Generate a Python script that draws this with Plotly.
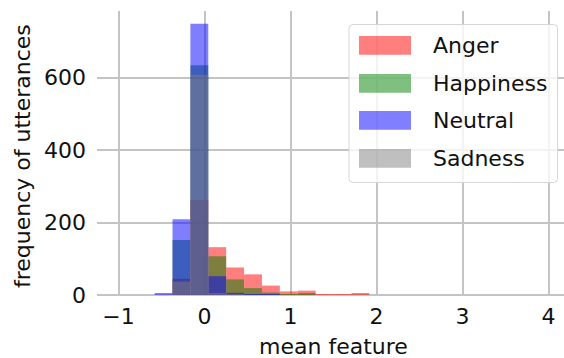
import plotly.graph_objects as go

# ---- data ----
bin_edges = [-0.58, -0.372, -0.164, 0.044, 0.252, 0.46, 0.668, 0.876, 1.084, 1.292, 1.50, 1.708, 1.916]
series_names = ["Anger", "Happiness", "Neutral", "Sadness"]
anger = [0, 45, 262, 132, 76, 57, 26, 10, 12, 2, 2, 4]
happiness = [0, 152, 634, 107, 43, 19, 7, 1, 3, 0, 0, 0]
neutral = [3, 209, 749, 52, 6, 2, 2, 0, 0, 0, 0, 0]
sadness = [0, 37, 608, 3, 1, 0, 0, 0, 0, 0, 0, 0]
x_ticks = [-1, 0, 1, 2, 3, 4]
y_ticks = [0, 200, 400, 600]

colors = ["#ff0000", "#008000", "#0000ff", "#808080"]
counts = [anger, happiness, neutral, sadness]

centers = [(a + b) / 2 for a, b in zip(bin_edges[:-1], bin_edges[1:])]
widths = [b - a for a, b in zip(bin_edges[:-1], bin_edges[1:])]

FONT = "DejaVu Sans"
W, H = 564, 358
L, R, T, B = 97, 564, 11, 295

fig = go.Figure()
for name, vals, c in zip(series_names, counts, colors):
    fig.add_trace(go.Bar(x=centers, y=vals, width=widths, name=name,
                         marker=dict(color=c, line=dict(width=0)),
                         opacity=0.5, showlegend=False))

def xp(px):
    return (px - L) / (R - L)

def yp(py):
    return (B - py) / (B - T)

shapes = []
annotations = []

# legend box with rounded corners
bx0, bx1, by0, by1, r = 349, 557.5, 24.5, 182.5, 4
path = (f"M{xp(bx0 + r)},{yp(by0)} L{xp(bx1 - r)},{yp(by0)} Q{xp(bx1)},{yp(by0)} {xp(bx1)},{yp(by0 + r)} "
        f"L{xp(bx1)},{yp(by1 - r)} Q{xp(bx1)},{yp(by1)} {xp(bx1 - r)},{yp(by1)} "
        f"L{xp(bx0 + r)},{yp(by1)} Q{xp(bx0)},{yp(by1)} {xp(bx0)},{yp(by1 - r)} "
        f"L{xp(bx0)},{yp(by0 + r)} Q{xp(bx0)},{yp(by0)} {xp(bx0 + r)},{yp(by0)} Z")
shapes.append(dict(type="path", xref="paper", yref="paper", path=path,
                   fillcolor="rgba(255,255,255,0.8)", line=dict(color="#d6d6d6", width=1)))

patch_tops = [36, 74, 111, 149]
for name, c, top in zip(series_names, colors, patch_tops):
    shapes.append(dict(type="rect", xref="paper", yref="paper",
                       x0=xp(359), x1=xp(411), y0=yp(top), y1=yp(top + 18.7),
                       fillcolor=c, opacity=0.5, line=dict(width=0)))
    annotations.append(dict(text=name, xref="paper", yref="paper",
                            x=xp(431), y=yp(top + 9.5), xanchor="left", yanchor="middle",
                            showarrow=False, font=dict(family=FONT, size=22, color="#111111")))

# axis titles
annotations.append(dict(text="mean feature", xref="paper", yref="paper",
                        x=xp(333), y=yp(346), xanchor="center", yanchor="middle",
                        showarrow=False, font=dict(family=FONT, size=22, color="#111111")))
annotations.append(dict(text="frequency of utterances", xref="paper", yref="paper",
                        x=xp(22), y=yp(156), xanchor="center", yanchor="middle", textangle=-90,
                        showarrow=False, font=dict(family=FONT, size=22, color="#111111")))

grid = "#c4c4c4"
fig.update_layout(
    width=W, height=H,
    margin=dict(l=L, r=W - R, t=T, b=H - B, pad=0),
    barmode="overlay",
    paper_bgcolor="white", plot_bgcolor="white",
    font=dict(family=FONT, size=22, color="#111111"),
    shapes=shapes, annotations=annotations,
    showlegend=False,
)
fig.update_xaxes(range=[-1.25, -1.25 + (R - L) / 86.0], tickvals=x_ticks,
                 ticktext=["\u22121", "0", "1", "2", "3", "4"],
                 showgrid=True, gridcolor=grid, gridwidth=1.5,
                 zeroline=True, zerolinecolor=grid, zerolinewidth=1.5,
                 showline=False, ticks="", ticklabelstandoff=6)
fig.update_yaxes(range=[0, 784], tickvals=y_ticks,
                 showgrid=True, gridcolor=grid, gridwidth=1.5,
                 zeroline=True, zerolinecolor=grid, zerolinewidth=1.5,
                 showline=False, ticks="", ticklabelstandoff=10)

fig.write_html("out.html", config={"displayModeBar": False},
               post_script="document.body.style.margin='0';document.body.style.overflow='hidden';")
